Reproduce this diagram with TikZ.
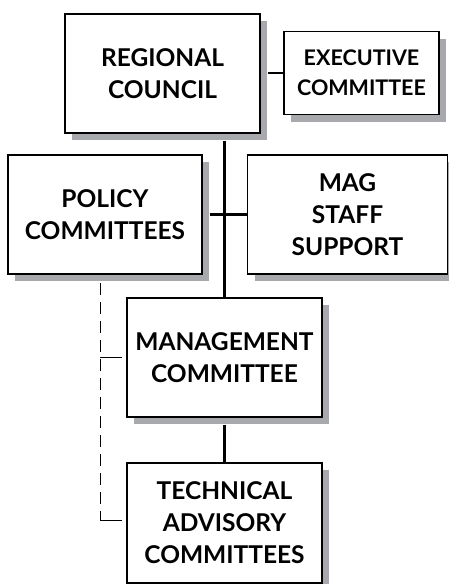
\documentclass[tikz,border=0pt]{standalone}
\usepackage{fontspec}
\setmainfont{Lato}
\usetikzlibrary{shadows}
\definecolor{shadowgray}{HTML}{A7A9AC}

\begin{document}
\begin{tikzpicture}[x=1pt, y=-1pt,
  orgbox/.style={draw, line width=1.3pt, fill=white, align=center,
    inner sep=0pt, font=\fontsize{24.5}{32}\selectfont\bfseries,
    drop shadow={shadow xshift=7pt, shadow yshift=-7pt, fill=shadowgray, opacity=1}},
  link/.style={line width=2.2pt},
  minor/.style={line width=0.8pt, dash pattern=on 12pt off 7pt}]

\useasboundingbox (0,0) rectangle (448,584);

\node[orgbox, minimum width=195pt, minimum height=119pt] (council) at (162.5,73.5) {REGIONAL\\COUNCIL};
\node[orgbox, minimum width=155pt, minimum height=83pt,
  font=\fontsize{21.5}{30}\selectfont\bfseries] (exec) at (361.5,73) {EXECUTIVE\\COMMITTEE};
\node[orgbox, minimum width=194pt, minimum height=119pt] (policy) at (105,214.5) {POLICY\\COMMITTEES};
\node[orgbox, minimum width=200pt, minimum height=119pt] (staff) at (347.5,214.5) {MAG\\STAFF\\SUPPORT};
\node[orgbox, minimum width=195pt, minimum height=119pt] (mgmt) at (224.5,357.5) {MANAGEMENT\\COMMITTEE};
\node[orgbox, minimum width=195pt, minimum height=120pt] (tech) at (224.5,523) {TECHNICAL\\ADVISORY\\COMMITTEES};

\draw[link] (council.east |- exec.west) ++(7,0) -- (exec.west);
\draw[link] (mgmt.north |- council.south) ++(0,7) -- (mgmt.north);
\draw[link] (policy.east) ++(7,0) -- (staff.west);
\draw[link] (mgmt.south) ++(0,7) -- (tech.north);

\coordinate (dtop) at (100,283);
\coordinate (dbot) at (100,520);
\draw[minor] (dtop) -- (dbot);
\draw[line width=0.8pt] (dtop |- mgmt.west) -- ++(22,0);
\draw[line width=0.8pt] (dbot) -- ++(22,0);

\end{tikzpicture}
\end{document}
